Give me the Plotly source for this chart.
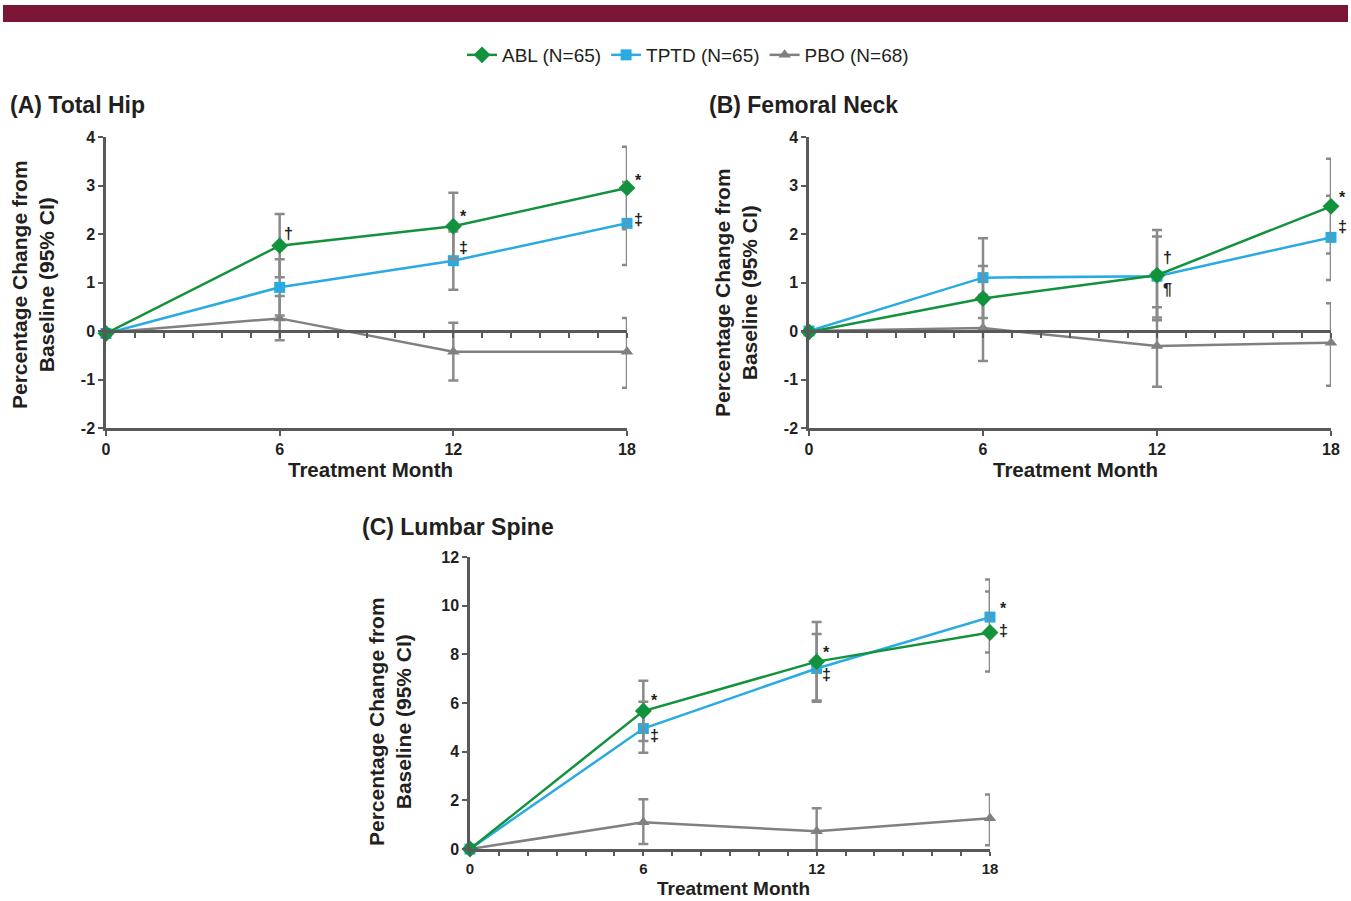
import plotly.graph_objects as go

# ---------------- data ----------------
months = [0, 6, 12, 18]
series_names = ["ABL (N=65)", "TPTD (N=65)", "PBO (N=68)"]

# (A) Total Hip
hip_abl = [-0.05, 1.76, 2.16, 2.95]
hip_abl_lo = [-0.05, 1.11, 1.48, 2.10]
hip_abl_hi = [-0.05, 2.41, 2.85, 3.80]
hip_tptd = [-0.05, 0.90, 1.45, 2.22]
hip_tptd_lo = [-0.05, 0.32, 0.85, 1.36]
hip_tptd_hi = [-0.05, 1.48, 2.05, 3.07]
hip_pbo = [-0.03, 0.26, -0.43, -0.43]
hip_pbo_lo = [-0.03, -0.19, -1.02, -1.17]
hip_pbo_hi = [-0.03, 0.72, 0.17, 0.27]

# (B) Femoral Neck
neck_abl = [-0.02, 0.67, 1.15, 2.57]
neck_abl_lo = [-0.02, 0.00, 0.22, 1.60]
neck_abl_hi = [-0.02, 1.34, 2.08, 3.55]
neck_tptd = [0.0, 1.10, 1.13, 1.93]
neck_tptd_lo = [0.0, 0.27, 0.28, 1.05]
neck_tptd_hi = [0.0, 1.91, 1.95, 2.79]
neck_pbo = [0.0, 0.06, -0.31, -0.24]
neck_pbo_lo = [0.0, -0.62, -1.15, -1.13]
neck_pbo_hi = [0.0, 0.74, 0.49, 0.57]

# (C) Lumbar Spine
spine_abl = [0.0, 5.67, 7.70, 8.90]
spine_abl_lo = [0.0, 4.44, 6.10, 7.29]
spine_abl_hi = [0.0, 6.91, 9.33, 10.58]
spine_tptd = [0.0, 4.95, 7.42, 9.53]
spine_tptd_lo = [0.0, 3.96, 6.05, 8.08]
spine_tptd_hi = [0.0, 6.05, 8.84, 11.08]
spine_pbo = [0.0, 1.10, 0.73, 1.26]
spine_pbo_lo = [0.0, 0.21, -0.13, 0.15]
spine_pbo_hi = [0.0, 2.04, 1.67, 2.24]

panel_titles = ["(A) Total Hip", "(B) Femoral Neck", "(C) Lumbar Spine"]
x_title = "Treatment Month"
y_title = "Percentage Change from<br>Baseline (95% CI)"
x_tick_labels = ["0", "6", "12", "18"]
hip_neck_yticks = [-2, -1, 0, 1, 2, 3, 4]
hip_neck_ylabels = ["-2", "-1", "0", "1", "2", "3", "4"]
spine_yticks = [0, 2, 4, 6, 8, 10, 12]
spine_ylabels = ["0", "2", "4", "6", "8", "10", "12"]

# significance markers: (panel, series index, month index, symbol)
sig_marks = [
    (0, 0, 1, "\u2020"), (0, 0, 2, "*"), (0, 0, 3, "*"),
    (0, 1, 2, "\u2021"), (0, 1, 3, "\u2021"),
    (1, 0, 2, "\u2020"), (1, 1, 2, "\u00b6"), (1, 0, 3, "*"), (1, 1, 3, "\u2021"),
    (2, 0, 1, "*"), (2, 1, 1, "\u2021"), (2, 0, 2, "*"), (2, 1, 2, "\u2021"),
    (2, 1, 3, "*"), (2, 0, 3, "\u2021"),
]
# label offsets in px (style)
sig_offsets = [
    (9, 12), (10, 10), (11, 7),
    (10, 13), (11, 4),
    (10, 18), (10, -13), (11, 9), (11, 11),
    (11, 11), (11, -7), (10, 9), (10, -6),
    (13, 9), (13, 2),
]

# ---------------- styles ----------------
W, H = 1351, 901
colors = ["#13923e", "#29abe2", "#808080"]
symbols = ["diamond", "square", "triangle-up"]
msizes = [13, 11, 11]
err_color = "#8a8a8a"
axis_color = "#58595b"
text_color = "#231f20"
FONT = "Liberation Sans, Arial, Helvetica, sans-serif"

panels = [
    dict(data=[(hip_abl, hip_abl_lo, hip_abl_hi), (hip_tptd, hip_tptd_lo, hip_tptd_hi),
               (hip_pbo, hip_pbo_lo, hip_pbo_hi)],
         xpx=(106, 627), ypx=(137, 428), yr=(-2, 4), yt=hip_neck_yticks, yl=hip_neck_ylabels,
         title_px=(8, 105), ytitle_px=(33, 285), xtitle_px=(371, 469), xt_anchor="middle",
         xt_size=20.5, xtick_size=16, xticklen=5),
    dict(data=[(neck_abl, neck_abl_lo, neck_abl_hi), (neck_tptd, neck_tptd_lo, neck_tptd_hi),
               (neck_pbo, neck_pbo_lo, neck_pbo_hi)],
         xpx=(809, 1331), ypx=(137, 428), yr=(-2, 4), yt=hip_neck_yticks, yl=hip_neck_ylabels,
         title_px=(707, 105), ytitle_px=(736, 293), xtitle_px=(1075, 469), xt_anchor="middle",
         xt_size=20.5, xtick_size=16, xticklen=5),
    dict(data=[(spine_abl, spine_abl_lo, spine_abl_hi), (spine_tptd, spine_tptd_lo, spine_tptd_hi),
               (spine_pbo, spine_pbo_lo, spine_pbo_hi)],
         xpx=(470, 990), ypx=(557, 849), yr=(0, 12), yt=spine_yticks, yl=spine_ylabels,
         title_px=(360, 527), ytitle_px=(390, 721), xtitle_px=(733, 901), xt_anchor="bottom",
         xt_size=19, xtick_size=15, xticklen=4),
]

fig = go.Figure()
layout = dict(
    template="none",
    width=W, height=H, autosize=False, margin=dict(l=0, r=0, t=0, b=0, pad=0, autoexpand=False),
    paper_bgcolor="white", plot_bgcolor="white",
    font=dict(family=FONT, color=text_color),
    showlegend=True,
    legend=dict(orientation="h", x=688 / W, xanchor="center", y=1 - 55 / H, yanchor="middle",
                font=dict(size=19, family=FONT, color=text_color), itemwidth=30,
                bgcolor="rgba(0,0,0,0)"),
)
annotations = []
shapes = [dict(type="rect", xref="paper", yref="paper", x0=3 / W, x1=1348 / W,
               y0=1 - 22 / H, y1=1 - 5 / H, fillcolor="#7a1535", line=dict(width=0), layer="above")]

tick_font = dict(size=16, family=FONT, color=text_color)


def b(labels):
    return ["<b>" + t + "</b>" if t else "" for t in labels]


for p, P in enumerate(panels):
    xa = "x" if p == 0 else f"x{p + 1}"
    ya = "y" if p == 0 else f"y{p + 1}"
    xkey = "xaxis" if p == 0 else f"xaxis{p + 1}"
    ykey = "yaxis" if p == 0 else f"yaxis{p + 1}"
    xd = [P["xpx"][0] / W, P["xpx"][1] / W]
    yd = [1 - P["ypx"][1] / H, 1 - P["ypx"][0] / H]
    y0, y1 = P["yr"]
    for s in [2, 1, 0]:
        v, lo, hi = P["data"][s]
        fig.add_trace(go.Scatter(
            x=months, y=v, xaxis=xa, yaxis=ya, name=series_names[s],
            mode="lines+markers", cliponaxis=False,
            line=dict(color=colors[s], width=2.5),
            marker=dict(symbol=symbols[s], size=msizes[s], color=colors[s]),
            error_y=dict(type="data", symmetric=False,
                         array=[h - m for h, m in zip(hi, v)],
                         arrayminus=[m - l for m, l in zip(v, lo)],
                         color=err_color, thickness=2.5, width=5),
            showlegend=(p == 0), legendrank=s, hoverinfo="skip",
        ))
    full_ticks = p == 2
    layout[xkey] = dict(
        domain=xd, anchor=ya, range=[0, 18], showline=True, linecolor=axis_color, linewidth=2.5,
        ticks="outside", ticklen=P["xticklen"], tickwidth=2, tickcolor=axis_color, automargin=False,
        tickvals=list(range(19)) if full_ticks else months,
        ticktext=b([str(i) if i in months else "" for i in range(19)] if full_ticks else x_tick_labels),
        tickfont=dict(size=P["xtick_size"], family=FONT, color=text_color),
        showgrid=False, zeroline=False, fixedrange=True,
    )
    layout[ykey] = dict(
        domain=yd, anchor=xa, range=[y0, y1], showline=True, linecolor=axis_color, linewidth=2.5,
        ticks="outside", ticklen=5, tickwidth=2, tickcolor=axis_color, automargin=False,
        tickvals=P["yt"], ticktext=b(P["yl"]), tickfont=tick_font,
        showgrid=False, zeroline=False, fixedrange=True,
    )
    if y0 < 0:
        # zero reference line with monthly ticks
        zkey = f"xaxis{p + 4}"
        pos = yd[0] + (0 - y0) / (y1 - y0) * (yd[1] - yd[0])
        layout[zkey] = dict(
            overlaying=xa, anchor="free", position=pos, range=[0, 18], showline=True,
            linecolor=axis_color, linewidth=2.5, ticks="outside", ticklen=5, tickwidth=2,
            tickcolor=axis_color, tickvals=list(range(19)), showticklabels=False, automargin=False,
            showgrid=False, zeroline=False, fixedrange=True,
        )
        fig.add_trace(go.Scatter(x=[0, 18], y=[None, None], xaxis=f"x{p + 4}", yaxis=ya,
                                 showlegend=False, hoverinfo="skip"))
    # titles
    annotations.append(dict(text="<b>" + panel_titles[p] + "</b>", xref="paper", yref="paper",
                            x=P["title_px"][0] / W, y=1 - P["title_px"][1] / H,
                            xanchor="left", yanchor="middle", showarrow=False,
                            font=dict(size=23, family=FONT, color=text_color)))
    annotations.append(dict(text="<b>" + y_title + "</b>", xref="paper", yref="paper",
                            x=P["ytitle_px"][0] / W, y=1 - P["ytitle_px"][1] / H,
                            xanchor="center", yanchor="middle", textangle=-90, showarrow=False,
                            font=dict(size=21, family=FONT, color=text_color)))
    annotations.append(dict(text="<b>" + x_title + "</b>", xref="paper", yref="paper",
                            x=P["xtitle_px"][0] / W, y=1 - P["xtitle_px"][1] / H,
                            xanchor="center", yanchor=P["xt_anchor"], showarrow=False,
                            font=dict(size=P["xt_size"], family=FONT, color=text_color)))

for (p, s, mi, sym), (dx, dy) in zip(sig_marks, sig_offsets):
    xa = "x" if p == 0 else f"x{p + 1}"
    ya = "y" if p == 0 else f"y{p + 1}"
    annotations.append(dict(text="<b>" + sym + "</b>", xref=xa, yref=ya, x=months[mi],
                            y=panels[p]["data"][s][0][mi], xshift=dx, yshift=dy,
                            showarrow=False, xanchor="center", yanchor="middle",
                            font=dict(size=16, family=FONT, color=text_color)))

layout["annotations"] = annotations
layout["shapes"] = shapes
fig.update_layout(**layout)
fig.write_html("out.html", config={"displayModeBar": False, "responsive": False},
               post_script="document.body.style.margin='0';document.body.style.overflow='hidden';")
